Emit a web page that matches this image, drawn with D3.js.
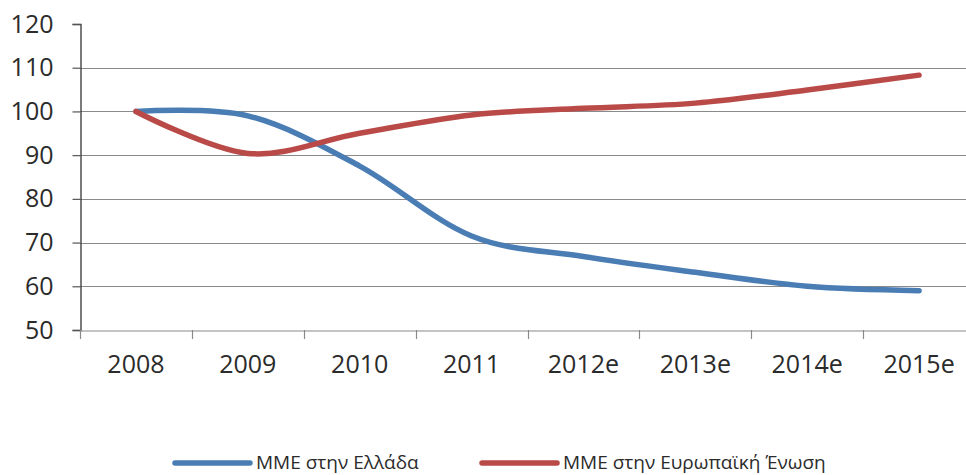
<!DOCTYPE html>
<html>
<head>
<meta charset="utf-8">
<script src="https://cdn.jsdelivr.net/npm/d3@7"></script>
<style>
    body { margin: 0; background: #fff; }
    text { font-family: "Open Sans", sans-serif; }
</style>
</head>
<body>
<div id="chart"></div>
<script>
//categories on the x axis
var years = ['2008', '2009', '2010', '2011', '2012e', '2013e', '2014e', '2015e'];

//index values, 2008 = 100
var greece = [100, 99, 87.5, 71.5, 66.8, 63.2, 60, 59];
var europe = [100, 90.4, 95, 99.2, 100.7, 101.9, 104.9, 108.3];

//y axis ticks
var yTicks = [50, 60, 70, 80, 90, 100, 110, 120];

//series names and colours for the legend
var seriesNames = ['ΜΜΕ στην Ελλάδα', 'ΜΜΕ στην Ευρωπαϊκή Ένωση'];
var seriesColors = ['#4a7db4', '#b94a48'];

var width = 966;
var height = 475;

var svg = d3.select('#chart').append('svg')
    .attr('width', width)
    .attr('height', height);

//band scale runs past the right edge, last category sits near the border
var x = d3.scaleBand().domain(years).range([80, 975]);
var y = d3.scaleLinear().domain([50, 120]).range([330, 24]);

//horizontal gridlines (none at the top value)
svg.selectAll('.grid')
    .data(yTicks.filter(function(d){ return d > 50 && d < 120; }))
    .enter()
    .append('line')
    .attr('class', 'grid')
    .attr('x1', 80)
    .attr('x2', width)
    .attr('y1', function(d){ return Math.round(y(d)) + 0.5; })
    .attr('y2', function(d){ return Math.round(y(d)) + 0.5; })
    .attr('stroke', '#8a8a8a')
    .attr('stroke-width', 1.2);

//y axis
var yAxis = svg.append('g')
    .attr('transform', 'translate(80.5,0)')
    .call(d3.axisLeft(y).tickValues(yTicks).tickSize(8).tickPadding(19));
yAxis.select('.domain').attr('stroke', '#444').attr('stroke-width', 1.4);
yAxis.selectAll('.tick line').attr('stroke', '#555').attr('stroke-width', 1.2);
yAxis.selectAll('.tick text')
    .style('font-size', '25px')
    .style('font-family', '"Open Sans", sans-serif')
    .attr('fill', '#2b2b2b');

//x axis, ticks between the categories
var xAxis = svg.append('g')
    .attr('transform', 'translate(0,330.5)')
    .call(d3.axisBottom(x).tickSize(0).tickPadding(0));
xAxis.select('.domain').attr('stroke', '#8a8a8a').attr('stroke-width', 1.2);
xAxis.selectAll('.tick text')
    .attr('y', 42)
    .attr('dy', 0)
    .style('font-size', '25px')
    .style('font-family', '"Open Sans", sans-serif')
    .attr('fill', '#2b2b2b');

svg.selectAll('.xtick')
    .data(years)
    .enter()
    .append('line')
    .attr('class', 'xtick')
    .attr('x1', function(d){ return Math.round(x(d)) + 0.5; })
    .attr('x2', function(d){ return Math.round(x(d)) + 0.5; })
    .attr('y1', 330)
    .attr('y2', 339)
    .attr('stroke', '#8a8a8a')
    .attr('stroke-width', 1.2);

//smoothed lines through the category centres
var line = d3.line()
    .x(function(d, i){ return x(years[i]) + x.bandwidth() / 2; })
    .y(function(d){ return y(d); })
    .curve(d3.curveCardinal.tension(0));

[greece, europe].forEach(function(values, k)
{
    svg.append('path')
        .datum(values)
        .attr('d', line)
        .attr('fill', 'none')
        .attr('stroke', seriesColors[k])
        .attr('stroke-width', 5.5)
        .attr('stroke-linecap', 'round');
});

//legend
var legendX = [173, 480];
var legendY = 463;
seriesNames.forEach(function(name, k)
{
    svg.append('line')
        .attr('x1', legendX[k] + 2)
        .attr('x2', legendX[k] + 77)
        .attr('y1', legendY)
        .attr('y2', legendY)
        .attr('stroke', seriesColors[k])
        .attr('stroke-width', 5.5)
        .attr('stroke-linecap', 'round');

    svg.append('text')
        .text(name)
        .attr('x', legendX[k] + 83)
        .attr('y', legendY + 6)
        .style('font-size', '19px')
        .attr('fill', '#2b2b2b');
});
</script>
</body>
</html>
